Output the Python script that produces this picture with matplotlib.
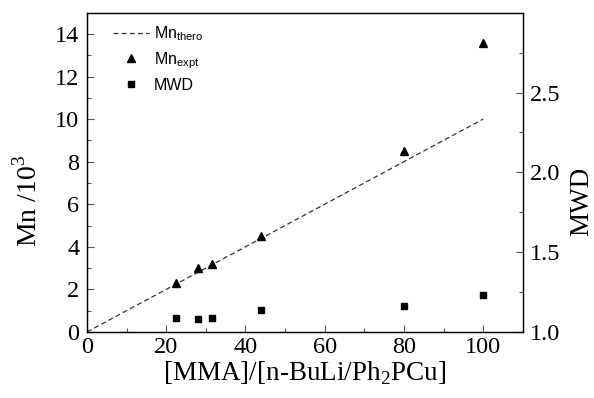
import matplotlib
matplotlib.use('Agg')
import matplotlib.pyplot as plt
from matplotlib.ticker import MultipleLocator, FormatStrFormatter

# data
ratio = [22.5, 28, 31.5, 44, 80, 100]
mn_expt = [2.3, 3.0, 3.2, 4.5, 8.5, 13.6]
mwd = [1.09, 1.08, 1.09, 1.14, 1.16, 1.23]
theo_x = [0, 100]
theo_y = [0, 10]

plt.rcParams['font.family'] = ['Liberation Serif', 'DejaVu Serif']
plt.rcParams['mathtext.fontset'] = 'custom'
plt.rcParams['mathtext.rm'] = 'Liberation Serif'
plt.rcParams['mathtext.sf'] = 'Liberation Sans'

fig = plt.figure(figsize=(5.94, 3.98), dpi=100)
ax = fig.add_axes([0.1465, 0.166, 0.7335, 0.801])
ax2 = ax.twinx()

l1, = ax.plot(theo_x, theo_y, '--', color='#333333', lw=0.9, dashes=(4, 2.5))
l2, = ax.plot(ratio, mn_expt, '^', color='black', ms=6, ls='none')
l3, = ax2.plot(ratio, mwd, 's', color='black', ms=5, ls='none')

ax.set_xlim(0, 110)
ax.set_ylim(0, 14.98)
ax2.set_ylim(1.0, 2.998)

ax.xaxis.set_major_locator(MultipleLocator(20))
ax.xaxis.set_minor_locator(MultipleLocator(10))
ax.yaxis.set_major_locator(MultipleLocator(2))
ax.yaxis.set_minor_locator(MultipleLocator(1))
ax2.yaxis.set_major_locator(MultipleLocator(0.5))
ax2.yaxis.set_minor_locator(MultipleLocator(0.25))

for a in (ax, ax2):
    a.tick_params(which='both', direction='in', labelsize=17.5, width=0.8,
                  color='#555555', pad=5.5)
    a.tick_params(which='major', length=5)
    a.tick_params(which='minor', length=3)
    for s in a.spines.values():
        s.set_linewidth(0.9)
ax.tick_params(axis='y', which='both', right=False)
ax.tick_params(axis='x', pad=3.5)
ax2.yaxis.set_major_formatter(FormatStrFormatter('%.1f'))

ax.set_xlabel('[MMA]/[n-BuLi/Ph$_2$PCu]', fontsize=19.5, labelpad=1)
ax.set_ylabel('Mn /10$^3$', fontsize=20)
ax.yaxis.set_label_coords(-0.101, 0.41)
ax2.set_ylabel('MWD', fontsize=19.5)
ax2.yaxis.set_label_coords(1.106, 0.41)

leg = ax.legend([l1, l2, l3],
                [r'Mn$_\mathsf{thero}$', r'Mn$_\mathsf{expt}$', 'MWD'],
                loc='upper left', frameon=False,
                prop={'family': 'Liberation Sans', 'size': 11.5},
                handlelength=2.25, handletextpad=0.3, labelspacing=0.45,
                borderpad=0, borderaxespad=0, bbox_to_anchor=(0.06, 0.965))

fig.savefig('out.png', dpi=100)
